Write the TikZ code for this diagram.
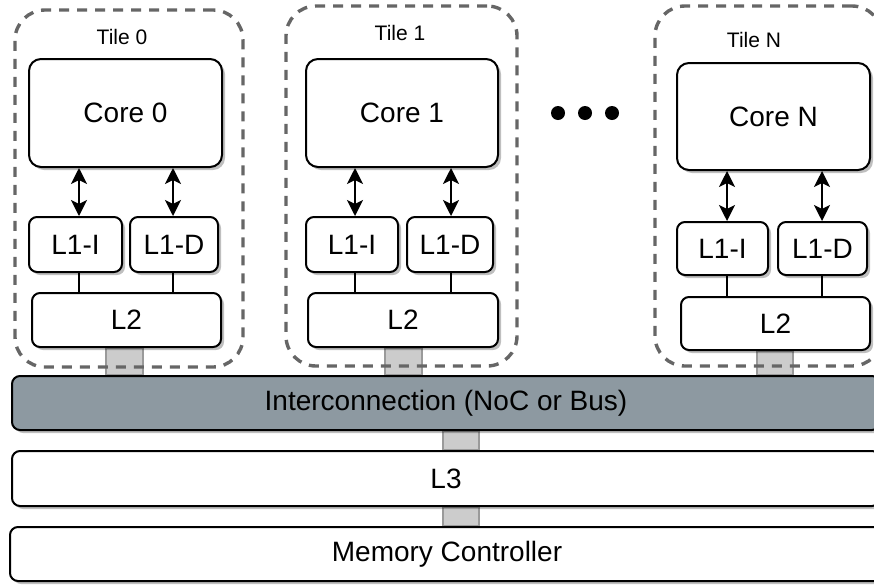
\documentclass[tikz,border=0pt]{standalone}
\usepackage{fontspec}
\setmainfont{Liberation Sans}
\usetikzlibrary{arrows.meta,shadows,calc}
\definecolor{tilegray}{HTML}{666666}
\definecolor{nocfill}{HTML}{8D99A1}
\definecolor{barfill}{HTML}{CCCCCC}
\definecolor{barline}{HTML}{9A9A9A}
\pgfdeclarelayer{bg}
\pgfsetlayers{bg,main}
\begin{document}
\begin{tikzpicture}[x=1pt,y=-1pt,
  box/.style={draw=black, line width=2pt, fill=white, rounded corners=8pt, inner sep=0pt,
    font=\fontsize{28}{33}\selectfont,
    drop shadow={shadow xshift=3pt, shadow yshift=-3pt, fill=black, opacity=0.25}},
  corebox/.style={box, rounded corners=12pt},
  tilebox/.style={draw=tilegray, line width=3.4pt, dash pattern=on 10pt off 8pt, rounded corners=30pt, inner sep=0pt},
  tilelabel/.style={font=\fontsize{21}{25}\selectfont, inner sep=0pt},
  biarrow/.style={line width=2pt, {Stealth[length=16pt,width=16pt,inset=4pt]}-{Stealth[length=16pt,width=16pt,inset=4pt]}},
  link/.style={line width=1.3pt, draw=black},
  bar/.style={fill=barfill, draw=barline, line width=1.2pt},
  dot/.style={circle, fill=black, minimum size=14pt, inner sep=0pt}
]
\useasboundingbox (0,0) rectangle (874,587);
\clip (0,0) rectangle (874,587);

% Tiles (dashed containers)
\node[tilebox, minimum width=228pt, minimum height=357pt] (tile0) at (129,188.5) {};
\node[tilebox, minimum width=231pt, minimum height=360pt] (tile1) at (401.5,186) {};
\node[tilebox, minimum width=227pt, minimum height=360pt] (tileN) at (768.5,186) {};
\node[tilelabel] (t0lab) at (122,37) {Tile 0};
\node[tilelabel] (t1lab) at (400,33) {Tile 1};
\node[tilelabel] (tNlab) at (754,40) {Tile N};

% Tile 0
\node[corebox, minimum width=193pt, minimum height=108pt] (core0) at (125.5,113) {Core 0};
\node[box, minimum width=93pt, minimum height=55pt] (l1i0) at (75.5,244.5) {L1-I};
\node[box, minimum width=88pt, minimum height=55pt] (l1d0) at (174,244.5) {L1-D};
\node[box, minimum width=189pt, minimum height=54pt] (l2a) at (126.5,320) {L2};

% Tile 1
\node[corebox, minimum width=192pt, minimum height=108pt] (core1) at (402,113) {Core 1};
\node[box, minimum width=92pt, minimum height=55pt] (l1i1) at (352,244.5) {L1-I};
\node[box, minimum width=86pt, minimum height=55pt] (l1d1) at (450,244.5) {L1-D};
\node[box, minimum width=190pt, minimum height=54pt] (l2b) at (403,320) {L2};

% Tile N
\node[corebox, minimum width=193pt, minimum height=107pt] (coreN) at (773.5,116.5) {Core N};
\node[box, minimum width=91pt, minimum height=53pt] (l1iN) at (722.5,248.5) {L1-I};
\node[box, minimum width=89pt, minimum height=53pt] (l1dN) at (822.5,248.5) {L1-D};
\node[box, minimum width=189pt, minimum height=53pt] (l2N) at (775.5,323.5) {L2};

% dots
\node[dot] (d1) at (558,113) {};
\node[dot] (d2) at (585,113) {};
\node[dot] (d3) at (612,113) {};

% Shared levels
\node[box, fill=nocfill, minimum width=868pt, minimum height=54pt] (noc) at (446,403) {Interconnection (NoC or Bus)};
\node[box, minimum width=868pt, minimum height=55pt] (l3) at (446,478.5) {L3};
\node[box, minimum width=874pt, minimum height=54pt] (mem) at (447,554) {Memory Controller};

% Core <-> L1 arrows
\draw[biarrow] ([xshift=3.5pt]l1i0.north) -- ([xshift=3.5pt]l1i0.north |- core0.south);
\draw[biarrow] ([xshift=-1pt]l1d0.north) -- ([xshift=-1pt]l1d0.north |- core0.south);
\draw[biarrow] ([xshift=3pt]l1i1.north) -- ([xshift=3pt]l1i1.north |- core1.south);
\draw[biarrow] ([xshift=1pt]l1d1.north) -- ([xshift=1pt]l1d1.north |- core1.south);
\draw[biarrow] ([xshift=4.5pt]l1iN.north) -- ([xshift=4.5pt]l1iN.north |- coreN.south);
\draw[biarrow] ([xshift=-0.5pt]l1dN.north) -- ([xshift=-0.5pt]l1dN.north |- coreN.south);

% L1 -- L2 links
\draw[link] ([xshift=3.5pt]l1i0.south) -- ([xshift=3.5pt]l1i0.south |- l2a.north);
\draw[link] ([xshift=-1pt]l1d0.south) -- ([xshift=-1pt]l1d0.south |- l2a.north);
\draw[link] ([xshift=3pt]l1i1.south) -- ([xshift=3pt]l1i1.south |- l2b.north);
\draw[link] ([xshift=1pt]l1d1.south) -- ([xshift=1pt]l1d1.south |- l2b.north);
\draw[link] ([xshift=4.5pt]l1iN.south) -- ([xshift=4.5pt]l1iN.south |- l2N.north);
\draw[link] ([xshift=-0.5pt]l1dN.south) -- ([xshift=-0.5pt]l1dN.south |- l2N.north);

% Wide gray bus links
\begin{pgfonlayer}{bg}
\draw[bar] ([xshift=-20.5pt]l2a.south) rectangle ([xshift=16.5pt]l2a.south |- noc.north);
\draw[bar] ([xshift=-18pt]l2b.south) rectangle ([xshift=19pt]l2b.south |- noc.north);
\draw[bar] ([xshift=-18.5pt]l2N.south) rectangle ([xshift=17.5pt]l2N.south |- noc.north);
\draw[bar] ([xshift=-3pt]noc.south) rectangle ([xshift=33pt]noc.south |- l3.north);
\draw[bar] ([xshift=-3pt]l3.south) rectangle ([xshift=33pt]l3.south |- mem.north);
\end{pgfonlayer}
\end{tikzpicture}
\end{document}
